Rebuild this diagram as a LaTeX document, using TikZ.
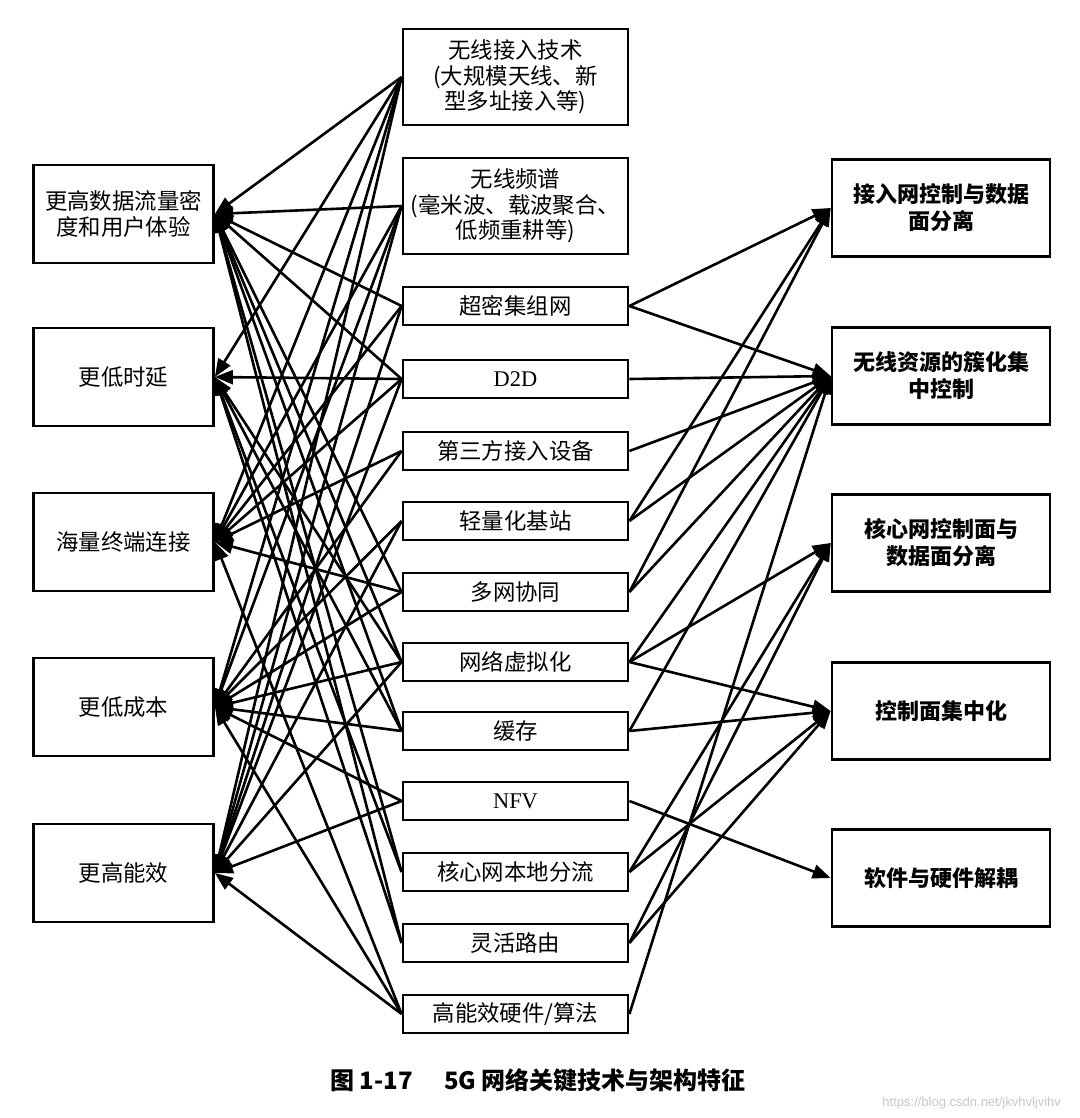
\documentclass[tikz,border=0pt]{standalone}
\usepackage{fontspec}
\setmainfont{Liberation Serif}
\setsansfont{Liberation Sans}
\newfontfamily\cjk{Noto Sans CJK SC}
\usepackage{tikz}
\usetikzlibrary{arrows.meta}

\tikzset{
  goal/.style={draw, line width=1.4pt, minimum width=90pt, minimum height=49pt, inner sep=1pt,
               align=center, font={\cjk\fontsize{11.2pt}{13pt}\selectfont}},
  tech/.style={draw, line width=1.4pt, minimum width=112.5pt, minimum height=19pt, inner sep=1pt,
               align=center, font={\cjk\fontsize{11.2pt}{12.8pt}\selectfont}},
  techbig/.style={tech, minimum height=48pt},
  arch/.style={draw, line width=1.4pt, minimum width=109pt, minimum height=48.5pt, inner sep=1pt,
               align=center, font={\cjk\bfseries\fontsize{11pt}{13.5pt}\selectfont}},
  link/.style={line width=1.3pt, -{Triangle[length=9pt,width=7pt]}}
}

\begin{document}
\begin{tikzpicture}[x=0.5pt,y=-0.5pt]

  \useasboundingbox (0,0) rectangle (1080,1118);

  \def\lx{123.5};
  \def\mx{515.5};
  \def\rx{941};

  %features on the left
  \foreach \y/\txt/\name in {214/{更高数据流量密\\度和用户体验}/thr, 377/更低时延/lat,
                              542/海量终端连接/conn, 707/更低成本/cost, 873/更高能效/eff}{
    \node[goal] (\name) at (\lx,\y) {\txt};
  }

  %key technologies
  \node[techbig] (wa) at (\mx,77) {无线接入技术\\(大规模天线、新\\型多址接入等)};
  \node[techbig] (ws) at (\mx,206) {无线频谱\\(毫米波、载波聚合、\\低频重耕等)};
  \foreach \y/\txt/\name in {306/超密集组网/ud, 379/{\rmfamily D2D}/d2d, 451/第三方接入设备/tp,
                              521/轻量化基站/lb, 592/多网协同/mn, 662/网络虚拟化/nv, 731/缓存/ca,
                              801/{\rmfamily NFV}/nfv, 872/核心网本地分流/lo, 943/灵活路由/fr,
                              1014/{高能效硬件/算法}/eh}{
    \node[tech] (\name) at (\mx,\y) {\txt};
  }

  %architecture features on the right
  \foreach \y/\txt/\name in {208/{接入网控制与数据\\面分离}/ransep, 376/{无线资源的簇化集\\中控制}/rrm,
                              543/{核心网控制面与\\数据面分离}/cnsep, 711/控制面集中化/ctrl,
                              878/软件与硬件解耦/sdec}{
    \node[arch] (\name) at (\rx,\y) {\txt};
  }

  %links to the left
  \foreach \dst/\srcs in {thr/{wa,ws,ud,d2d,mn,nv,ca,lo,fr}, lat/{wa,d2d,nv,ca,lo,fr},
                          conn/{wa,ws,ud,d2d,tp,mn,eh}, cost/{wa,ws,tp,lb,mn,nv,ca,nfv,eh},
                          eff/{wa,ws,ud,d2d,lb,nv,nfv,eh}}{
    \foreach \src in \srcs
      \draw[link] (\src.west) -- (\dst.east);
  }

  %links to the right
  \foreach \dst/\srcs in {ransep/{ud,lb,mn}, rrm/{ud,d2d,tp,lb,mn,nv,ca,eh},
                          cnsep/{nv,lo,fr}, ctrl/{nv,ca,lo,fr}, sdec/{nfv}}{
    \foreach \src in \srcs
      \draw[link] (\src.east) -- (\dst.west);
  }

  %caption
  \node[font={\cjk\bfseries\fontsize{12pt}{14pt}\selectfont}] (cap) at (538,1080)
       {图 1-17\hspace{1.3em}5G 网络关键技术与架构特征};
  \node[font={\sffamily\fontsize{6.5pt}{8pt}\selectfont}, text=gray!45, anchor=east] (mark) at (1068,1103)
       {https://blog.csdn.net/jkvhvljvihv};

\end{tikzpicture}
\end{document}
